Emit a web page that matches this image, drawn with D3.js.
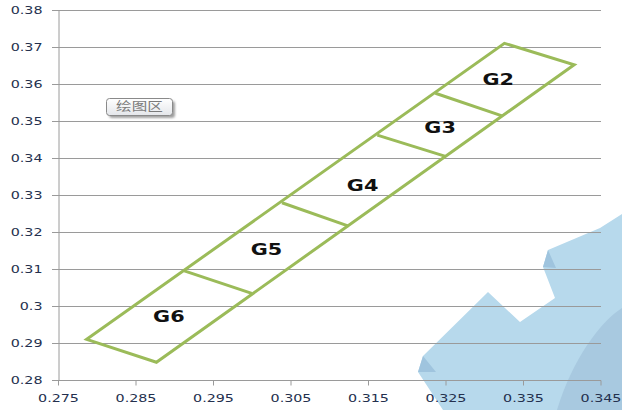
<!DOCTYPE html>
<html>
<head>
<meta charset="utf-8">
<script src="https://cdn.jsdelivr.net/npm/d3@7"></script>
<style>
  body { margin: 0; background: #fff; }
  svg { display: block; }
  .tick-label { font-family: "DejaVu Sans", Verdana, sans-serif; font-size: 11px; fill: #24304e; }
  .zone-label { font-family: "DejaVu Sans", Verdana, sans-serif; font-size: 16px; font-weight: bold; fill: #111; }
</style>
</head>
<body>
<div id="main"></div>
<script>
// DATA
const xTicks = [0.275, 0.285, 0.295, 0.305, 0.315, 0.325, 0.335, 0.345]
const yTicks = [0.28, 0.29, 0.30, 0.31, 0.32, 0.33, 0.34, 0.35, 0.36, 0.37, 0.38]
const yTickLabels = ["0.28", "0.29", "0.3", "0.31", "0.32", "0.33", "0.34", "0.35", "0.36", "0.37", "0.38"]

// outer strip corners (x, y)
const outlineX = [0.2787, 0.2877, 0.3416, 0.3326]
const outlineY = [0.2910, 0.2848, 0.3652, 0.3710]

// cross dividers between zones, from left edge to right edge
const divLeftX  = [0.3237, 0.3162, 0.3039, 0.2913]
const divLeftY  = [0.3575, 0.3462, 0.3279, 0.3095]
const divRightX = [0.3323, 0.3249, 0.3125, 0.3000]
const divRightY = [0.3514, 0.3405, 0.3216, 0.3034]

const zoneNames = ["G2", "G3", "G4", "G5", "G6"]
const zoneX = [0.3318, 0.3243, 0.3143, 0.3019, 0.2893]
const zoneY = [0.3613, 0.3484, 0.3327, 0.3154, 0.2971]

// SETUP
const width = 622, height = 410
const STRETCH = 1.3

const x = d3.scaleLinear().domain([0.275, 0.345]).range([58, 600.5])
const y = d3.scaleLinear().domain([0.28, 0.38]).range([380, 10])

const svg = d3.select("#main").append("svg")
    .attr("width", width)
    .attr("height", height)

// watermark (decoration, behind the chart)
const mark = svg.append("g")
mark.append("path")
    .attr("d", "M443,410 L418,372 L423,356 L488,292 L520,322 L555,298 L543,267 L548,250 L600,228 L622,214 L622,410 Z")
    .attr("fill", "#b7d9ec")
mark.append("path")
    .attr("d", "M418,372 L423,356 L436,372 Z M543,267 L548,250 L556,268 Z")
    .attr("fill", "#9fc4de")
mark.append("path")
    .attr("d", "M622,308 C600,322 572,360 557,410 L622,410 Z")
    .attr("fill", "#a8c9e0")

// gridlines
svg.append("g").selectAll("line")
    .data(yTicks)
    .enter().append("line")
        .attr("x1", 52).attr("x2", 601)
        .attr("y1", d => Math.round(y(d)) + 0.5)
        .attr("y2", d => Math.round(y(d)) + 0.5)
        .attr("stroke", "#9a9a9a")
        .attr("stroke-width", 1)

// y axis
const yAxis = svg.append("g")
    .attr("transform", "translate(58.5,0)")
    .call(d3.axisLeft(y).tickValues(yTicks).tickSize(0).tickFormat((d, i) => yTickLabels[i]))
yAxis.select(".domain").attr("stroke", "#9a9a9a")
yAxis.selectAll("text")
    .attr("class", "tick-label")
    .attr("x", 0)
    .attr("transform", `translate(-16,0) scale(${STRETCH},1)`)

// x axis
const xAxis = svg.append("g")
    .attr("transform", "translate(0,380.5)")
    .call(d3.axisBottom(x).tickValues(xTicks).tickSize(5).tickFormat(d3.format(".3f")))
xAxis.select(".domain").attr("stroke", "#9a9a9a").attr("d", "M58.5,0H601")
xAxis.selectAll("line").attr("stroke", "#9a9a9a")
xAxis.selectAll("text")
    .attr("class", "tick-label")
    .attr("y", 0)
    .attr("dy", 0)
    .attr("transform", `translate(0,21) scale(${STRETCH},1)`)

// strip outline
const pts = outlineX.map((d, i) => [x(d), y(outlineY[i])])
svg.append("path")
    .attr("d", d3.line()(pts) + "Z")
    .attr("fill", "none")
    .attr("stroke", "#9bbb59")
    .attr("stroke-width", 3)
    .attr("stroke-linejoin", "miter")

svg.append("g").selectAll("line")
    .data(divLeftX)
    .enter().append("line")
        .attr("x1", d => x(d))
        .attr("y1", (d, i) => y(divLeftY[i]))
        .attr("x2", (d, i) => x(divRightX[i]))
        .attr("y2", (d, i) => y(divRightY[i]))
        .attr("stroke", "#9bbb59")
        .attr("stroke-width", 3)

// zone labels
svg.append("g").selectAll("text")
    .data(zoneNames)
    .enter().append("text")
        .attr("class", "zone-label")
        .attr("text-anchor", "middle")
        .attr("dy", "0.36em")
        .attr("transform", (d, i) => `translate(${x(zoneX[i])},${y(zoneY[i])}) scale(${STRETCH},1)`)
        .text(d => d)

// plot-area tooltip
const defs = svg.append("defs")
const grad = defs.append("linearGradient").attr("id", "tipfill").attr("x1", 0).attr("y1", 0).attr("x2", 0).attr("y2", 1)
grad.append("stop").attr("offset", "0%").attr("stop-color", "#ffffff")
grad.append("stop").attr("offset", "100%").attr("stop-color", "#e4e6ea")
defs.append("filter").attr("id", "blur").append("feGaussianBlur").attr("stdDeviation", 1.2)

const tip = svg.append("g").attr("transform", "translate(106,98)")
tip.append("rect")
    .attr("x", 3).attr("y", 3).attr("width", 66).attr("height", 17).attr("rx", 3)
    .attr("fill", "#555").attr("opacity", 0.55).attr("filter", "url(#blur)")
tip.append("rect")
    .attr("x", 0.5).attr("y", 0.5).attr("width", 66).attr("height", 17).attr("rx", 3)
    .attr("fill", "url(#tipfill)").attr("stroke", "#8a8a8a")
tip.append("text")
    .attr("transform", `translate(33.5,9) scale(${STRETCH},1)`)
    .attr("text-anchor", "middle")
    .attr("dy", "0.36em")
    .attr("font-family", "Noto Sans CJK SC, sans-serif")
    .attr("font-size", 12)
    .attr("fill", "#7a7a7a")
    .text("绘图区")
</script>
</body>
</html>
